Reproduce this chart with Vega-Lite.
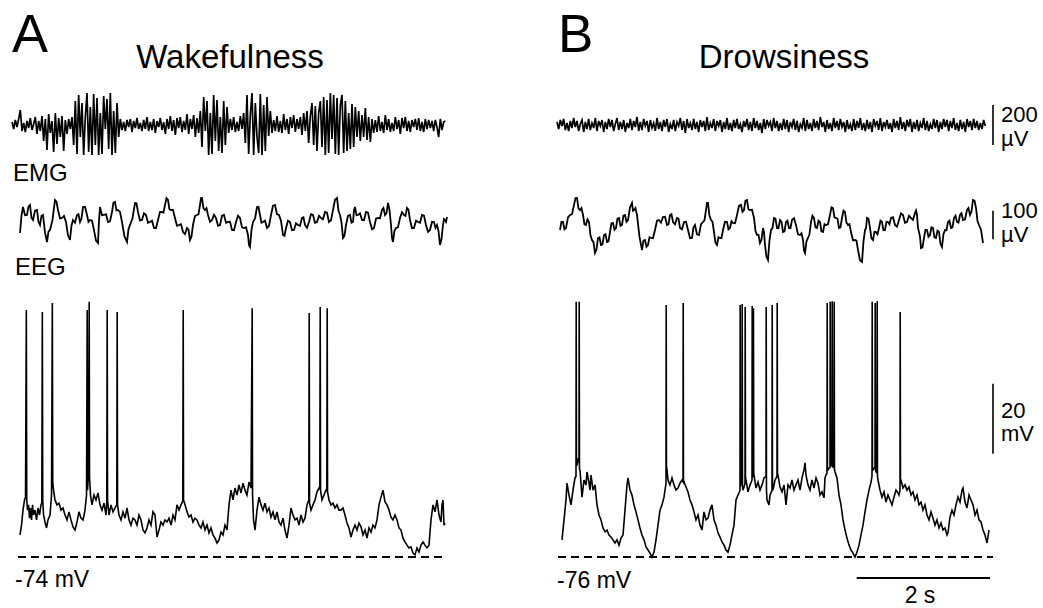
{
"$schema": "https://vega.github.io/schema/vega-lite/v6.json",
"padding": 0,
"background": "white",
"config": {"view": {"stroke": null}, "text": {"font": "Liberation Sans", "color": "black"}},
"datasets": {
"emgA": [{"t":0,"v":15},{"t":25,"v":-20},{"t":50,"v":25},{"t":75,"v":-10},{"t":100,"v":30},{"t":125,"v":75},{"t":150,"v":-30},{"t":175,"v":10},{"t":200,"v":-35},{"t":225,"v":20},{"t":250,"v":-15},{"t":275,"v":35},{"t":300,"v":-25},{"t":325,"v":5},{"t":350,"v":40},{"t":375,"v":-45},{"t":400,"v":20},{"t":425,"v":-30},{"t":450,"v":45},{"t":475,"v":-80},{"t":500,"v":30},{"t":525,"v":-125},{"t":550,"v":55},{"t":575,"v":-40},{"t":600,"v":20},{"t":625,"v":-135},{"t":650,"v":60},{"t":675,"v":-95},{"t":700,"v":35},{"t":725,"v":-60},{"t":750,"v":45},{"t":775,"v":-130},{"t":800,"v":25},{"t":825,"v":-45},{"t":850,"v":30},{"t":875,"v":-20},{"t":900,"v":40},{"t":925,"v":-100},{"t":950,"v":120},{"t":975,"v":-145},{"t":1000,"v":150},{"t":1025,"v":-60},{"t":1050,"v":110},{"t":1075,"v":-150},{"t":1100,"v":40},{"t":1125,"v":160},{"t":1150,"v":-135},{"t":1175,"v":90},{"t":1200,"v":-150},{"t":1225,"v":155},{"t":1250,"v":-100},{"t":1275,"v":135},{"t":1300,"v":-150},{"t":1325,"v":60},{"t":1350,"v":-145},{"t":1375,"v":145},{"t":1400,"v":-20},{"t":1425,"v":130},{"t":1450,"v":-120},{"t":1475,"v":160},{"t":1500,"v":-150},{"t":1525,"v":70},{"t":1550,"v":-140},{"t":1575,"v":110},{"t":1600,"v":-60},{"t":1625,"v":30},{"t":1650,"v":-25},{"t":1675,"v":15},{"t":1700,"v":-30},{"t":1725,"v":25},{"t":1750,"v":-10},{"t":1775,"v":30},{"t":1800,"v":-35},{"t":1825,"v":20},{"t":1850,"v":-15},{"t":1875,"v":35},{"t":1900,"v":-20},{"t":1925,"v":10},{"t":1950,"v":-30},{"t":1975,"v":25},{"t":2000,"v":-20},{"t":2025,"v":40},{"t":2050,"v":-30},{"t":2075,"v":15},{"t":2100,"v":-25},{"t":2125,"v":30},{"t":2150,"v":-40},{"t":2175,"v":20},{"t":2200,"v":-10},{"t":2225,"v":35},{"t":2250,"v":-25},{"t":2275,"v":15},{"t":2300,"v":-45},{"t":2325,"v":30},{"t":2350,"v":-20},{"t":2375,"v":45},{"t":2400,"v":-30},{"t":2425,"v":25},{"t":2450,"v":-50},{"t":2475,"v":35},{"t":2500,"v":-15},{"t":2525,"v":40},{"t":2550,"v":-35},{"t":2575,"v":20},{"t":2600,"v":-25},{"t":2625,"v":55},{"t":2650,"v":-45},{"t":2675,"v":30},{"t":2700,"v":-20},{"t":2725,"v":50},{"t":2750,"v":-60},{"t":2775,"v":35},{"t":2800,"v":-40},{"t":2825,"v":70},{"t":2850,"v":-110},{"t":2875,"v":140},{"t":2900,"v":-30},{"t":2925,"v":120},{"t":2950,"v":-150},{"t":2975,"v":60},{"t":3000,"v":-145},{"t":3025,"v":150},{"t":3050,"v":-80},{"t":3075,"v":125},{"t":3100,"v":-130},{"t":3125,"v":40},{"t":3150,"v":-140},{"t":3175,"v":120},{"t":3200,"v":-100},{"t":3225,"v":90},{"t":3250,"v":-40},{"t":3275,"v":30},{"t":3300,"v":-25},{"t":3325,"v":40},{"t":3350,"v":-35},{"t":3375,"v":15},{"t":3400,"v":-30},{"t":3425,"v":45},{"t":3450,"v":-20},{"t":3475,"v":60},{"t":3500,"v":-90},{"t":3525,"v":150},{"t":3550,"v":-145},{"t":3575,"v":50},{"t":3600,"v":160},{"t":3625,"v":-150},{"t":3650,"v":110},{"t":3675,"v":-60},{"t":3700,"v":-140},{"t":3725,"v":155},{"t":3750,"v":-150},{"t":3775,"v":100},{"t":3800,"v":-130},{"t":3825,"v":140},{"t":3850,"v":-55},{"t":3875,"v":70},{"t":3900,"v":-40},{"t":3925,"v":25},{"t":3950,"v":-30},{"t":3975,"v":45},{"t":4000,"v":-35},{"t":4025,"v":20},{"t":4050,"v":-40},{"t":4075,"v":55},{"t":4100,"v":-25},{"t":4125,"v":30},{"t":4150,"v":-45},{"t":4175,"v":40},{"t":4200,"v":-15},{"t":4225,"v":50},{"t":4250,"v":-35},{"t":4275,"v":30},{"t":4300,"v":-20},{"t":4325,"v":40},{"t":4350,"v":-50},{"t":4375,"v":60},{"t":4400,"v":-30},{"t":4425,"v":70},{"t":4450,"v":-90},{"t":4475,"v":45},{"t":4500,"v":110},{"t":4525,"v":-100},{"t":4550,"v":95},{"t":4575,"v":-130},{"t":4600,"v":60},{"t":4625,"v":120},{"t":4650,"v":-110},{"t":4675,"v":140},{"t":4700,"v":-150},{"t":4725,"v":125},{"t":4750,"v":-140},{"t":4775,"v":160},{"t":4800,"v":-70},{"t":4825,"v":150},{"t":4850,"v":-145},{"t":4875,"v":135},{"t":4900,"v":-150},{"t":4925,"v":100},{"t":4950,"v":150},{"t":4975,"v":-140},{"t":5000,"v":120},{"t":5025,"v":-130},{"t":5050,"v":60},{"t":5075,"v":-120},{"t":5100,"v":105},{"t":5125,"v":-110},{"t":5150,"v":90},{"t":5175,"v":-60},{"t":5200,"v":70},{"t":5225,"v":-80},{"t":5250,"v":50},{"t":5275,"v":-60},{"t":5300,"v":85},{"t":5325,"v":-75},{"t":5350,"v":40},{"t":5375,"v":-85},{"t":5400,"v":30},{"t":5425,"v":-40},{"t":5450,"v":25},{"t":5475,"v":-35},{"t":5500,"v":45},{"t":5525,"v":-30},{"t":5550,"v":15},{"t":5575,"v":-40},{"t":5600,"v":50},{"t":5625,"v":-25},{"t":5650,"v":30},{"t":5675,"v":-35},{"t":5700,"v":10},{"t":5725,"v":-30},{"t":5750,"v":40},{"t":5775,"v":-20},{"t":5800,"v":25},{"t":5825,"v":-45},{"t":5850,"v":35},{"t":5875,"v":-15},{"t":5900,"v":40},{"t":5925,"v":-30},{"t":5950,"v":20},{"t":5975,"v":-35},{"t":6000,"v":25},{"t":6025,"v":-10},{"t":6050,"v":30},{"t":6075,"v":-25},{"t":6100,"v":35},{"t":6125,"v":-30},{"t":6150,"v":15},{"t":6175,"v":-35},{"t":6200,"v":30},{"t":6225,"v":-20},{"t":6250,"v":25},{"t":6275,"v":-15},{"t":6300,"v":20},{"t":6325,"v":-30},{"t":6350,"v":25},{"t":6375,"v":-10},{"t":6400,"v":-60},{"t":6425,"v":30},{"t":6450,"v":-25},{"t":6475,"v":15},{"t":6500,"v":20}],
"emgB": [{"t":0,"v":15},{"t":25,"v":-20},{"t":50,"v":25},{"t":75,"v":-5},{"t":100,"v":30},{"t":125,"v":-25},{"t":150,"v":10},{"t":175,"v":-30},{"t":200,"v":20},{"t":225,"v":-15},{"t":250,"v":35},{"t":275,"v":-10},{"t":300,"v":20},{"t":325,"v":-30},{"t":350,"v":5},{"t":375,"v":25},{"t":400,"v":-35},{"t":425,"v":15},{"t":450,"v":-20},{"t":475,"v":30},{"t":500,"v":-25},{"t":525,"v":10},{"t":550,"v":-15},{"t":575,"v":35},{"t":600,"v":-30},{"t":625,"v":20},{"t":650,"v":-5},{"t":675,"v":25},{"t":700,"v":-35},{"t":725,"v":15},{"t":750,"v":-20},{"t":775,"v":30},{"t":800,"v":-10},{"t":825,"v":25},{"t":850,"v":-30},{"t":875,"v":5},{"t":900,"v":35},{"t":925,"v":-25},{"t":950,"v":15},{"t":975,"v":-20},{"t":1000,"v":25},{"t":1025,"v":-35},{"t":1050,"v":10},{"t":1075,"v":-15},{"t":1100,"v":30},{"t":1125,"v":-25},{"t":1150,"v":20},{"t":1175,"v":-10},{"t":1200,"v":40},{"t":1225,"v":-30},{"t":1250,"v":15},{"t":1275,"v":-25},{"t":1300,"v":30},{"t":1325,"v":-5},{"t":1350,"v":20},{"t":1375,"v":-35},{"t":1400,"v":25},{"t":1425,"v":-15},{"t":1450,"v":10},{"t":1475,"v":-30},{"t":1500,"v":35},{"t":1525,"v":-20},{"t":1550,"v":15},{"t":1575,"v":-30},{"t":1600,"v":25},{"t":1625,"v":-10},{"t":1650,"v":30},{"t":1675,"v":-35},{"t":1700,"v":5},{"t":1725,"v":-20},{"t":1750,"v":25},{"t":1775,"v":-30},{"t":1800,"v":15},{"t":1825,"v":-5},{"t":1850,"v":35},{"t":1875,"v":-25},{"t":1900,"v":20},{"t":1925,"v":-40},{"t":1950,"v":30},{"t":1975,"v":-15},{"t":2000,"v":10},{"t":2025,"v":-25},{"t":2050,"v":30},{"t":2075,"v":-20},{"t":2100,"v":15},{"t":2125,"v":-35},{"t":2150,"v":25},{"t":2175,"v":-10},{"t":2200,"v":20},{"t":2225,"v":-30},{"t":2250,"v":40},{"t":2275,"v":-25},{"t":2300,"v":10},{"t":2325,"v":-15},{"t":2350,"v":30},{"t":2375,"v":-30},{"t":2400,"v":20},{"t":2425,"v":-5},{"t":2450,"v":25},{"t":2475,"v":-35},{"t":2500,"v":15},{"t":2525,"v":-20},{"t":2550,"v":35},{"t":2575,"v":-25},{"t":2600,"v":10},{"t":2625,"v":-30},{"t":2650,"v":25},{"t":2675,"v":-15},{"t":2700,"v":30},{"t":2725,"v":-20},{"t":2750,"v":5},{"t":2775,"v":-35},{"t":2800,"v":20},{"t":2825,"v":-10},{"t":2850,"v":30},{"t":2875,"v":-25},{"t":2900,"v":15},{"t":2925,"v":-30},{"t":2950,"v":35},{"t":2975,"v":-15},{"t":3000,"v":20},{"t":3025,"v":-25},{"t":3050,"v":10},{"t":3075,"v":-40},{"t":3100,"v":30},{"t":3125,"v":-20},{"t":3150,"v":25},{"t":3175,"v":-5},{"t":3200,"v":15},{"t":3225,"v":-30},{"t":3250,"v":35},{"t":3275,"v":-15},{"t":3300,"v":20},{"t":3325,"v":-30},{"t":3350,"v":10},{"t":3375,"v":-25},{"t":3400,"v":30},{"t":3425,"v":-20},{"t":3450,"v":25},{"t":3475,"v":-35},{"t":3500,"v":15},{"t":3525,"v":-10},{"t":3550,"v":30},{"t":3575,"v":-25},{"t":3600,"v":20},{"t":3625,"v":-35},{"t":3650,"v":5},{"t":3675,"v":-15},{"t":3700,"v":35},{"t":3725,"v":-30},{"t":3750,"v":25},{"t":3775,"v":-20},{"t":3800,"v":10},{"t":3825,"v":-30},{"t":3850,"v":30},{"t":3875,"v":-15},{"t":3900,"v":20},{"t":3925,"v":-25},{"t":3950,"v":40},{"t":3975,"v":-10},{"t":4000,"v":15},{"t":4025,"v":-35},{"t":4050,"v":25},{"t":4075,"v":-20},{"t":4100,"v":10},{"t":4125,"v":-30},{"t":4150,"v":35},{"t":4175,"v":-15},{"t":4200,"v":20},{"t":4225,"v":-25},{"t":4250,"v":30},{"t":4275,"v":-10},{"t":4300,"v":15},{"t":4325,"v":-35},{"t":4350,"v":25},{"t":4375,"v":-20},{"t":4400,"v":5},{"t":4425,"v":-30},{"t":4450,"v":30},{"t":4475,"v":-25},{"t":4500,"v":20},{"t":4525,"v":-15},{"t":4550,"v":35},{"t":4575,"v":-25},{"t":4600,"v":10},{"t":4625,"v":-30},{"t":4650,"v":25},{"t":4675,"v":-20},{"t":4700,"v":15},{"t":4725,"v":-35},{"t":4750,"v":30},{"t":4775,"v":-5},{"t":4800,"v":20},{"t":4825,"v":-25},{"t":4850,"v":35},{"t":4875,"v":-30},{"t":4900,"v":15},{"t":4925,"v":-10},{"t":4950,"v":25},{"t":4975,"v":-20},{"t":5000,"v":10},{"t":5025,"v":-35},{"t":5050,"v":30},{"t":5075,"v":-15},{"t":5100,"v":20},{"t":5125,"v":-25},{"t":5150,"v":40},{"t":5175,"v":-20},{"t":5200,"v":15},{"t":5225,"v":-30},{"t":5250,"v":25},{"t":5275,"v":-10},{"t":5300,"v":30},{"t":5325,"v":-35},{"t":5350,"v":15},{"t":5375,"v":-20},{"t":5400,"v":25},{"t":5425,"v":-30},{"t":5450,"v":10},{"t":5475,"v":-15},{"t":5500,"v":35},{"t":5525,"v":-25},{"t":5550,"v":20},{"t":5575,"v":-30},{"t":5600,"v":5},{"t":5625,"v":-20},{"t":5650,"v":30},{"t":5675,"v":-15},{"t":5700,"v":25},{"t":5725,"v":-35},{"t":5750,"v":15},{"t":5775,"v":-20},{"t":5800,"v":30},{"t":5825,"v":-10},{"t":5850,"v":25},{"t":5875,"v":-30},{"t":5900,"v":20},{"t":5925,"v":-15},{"t":5950,"v":35},{"t":5975,"v":-25},{"t":6000,"v":10},{"t":6025,"v":-30},{"t":6050,"v":25},{"t":6075,"v":-20},{"t":6100,"v":15},{"t":6125,"v":-35},{"t":6150,"v":30},{"t":6175,"v":-10},{"t":6200,"v":20},{"t":6225,"v":-25},{"t":6250,"v":30},{"t":6275,"v":-15},{"t":6300,"v":20},{"t":6325,"v":-25},{"t":6350,"v":10},{"t":6375,"v":-20},{"t":6400,"v":25},{"t":6425,"v":-5}],
"eegA": [{"t":120,"v":-28},{"t":142,"v":32},{"t":165,"v":63},{"t":195,"v":34},{"t":225,"v":35},{"t":247,"v":64},{"t":270,"v":70},{"t":292,"v":26},{"t":315,"v":17.5},{"t":345,"v":50},{"t":375,"v":52.5},{"t":397,"v":11},{"t":420,"v":0},{"t":442,"v":32},{"t":465,"v":35},{"t":495,"v":-27},{"t":525,"v":-59.5},{"t":547,"v":-23},{"t":570,"v":-17.5},{"t":607,"v":17},{"t":645,"v":87.5},{"t":667,"v":82},{"t":690,"v":52.5},{"t":720,"v":23},{"t":750,"v":24.5},{"t":780,"v":32},{"t":810,"v":10.5},{"t":840,"v":-36},{"t":870,"v":-52.5},{"t":892,"v":-2.5},{"t":915,"v":17.5},{"t":945,"v":8},{"t":975,"v":35},{"t":997,"v":38},{"t":1020,"v":10.5},{"t":1042,"v":22},{"t":1065,"v":63},{"t":1095,"v":64},{"t":1125,"v":35},{"t":1147,"v":11},{"t":1170,"v":17.5},{"t":1200,"v":15},{"t":1230,"v":-17.5},{"t":1260,"v":-55},{"t":1290,"v":-63},{"t":1305,"v":15},{"t":1320,"v":63},{"t":1350,"v":34},{"t":1380,"v":35},{"t":1410,"v":38},{"t":1440,"v":10.5},{"t":1470,"v":13},{"t":1500,"v":45.5},{"t":1522,"v":78},{"t":1545,"v":80.5},{"t":1567,"v":51},{"t":1590,"v":52.5},{"t":1620,"v":46},{"t":1650,"v":10.5},{"t":1687,"v":-40},{"t":1725,"v":-59.5},{"t":1747,"v":-15},{"t":1770,"v":0},{"t":1807,"v":23},{"t":1845,"v":77},{"t":1867,"v":76},{"t":1890,"v":45.5},{"t":1920,"v":16},{"t":1950,"v":17.5},{"t":1980,"v":41},{"t":2010,"v":35},{"t":2040,"v":8},{"t":2070,"v":10.5},{"t":2100,"v":15},{"t":2130,"v":-10.5},{"t":2160,"v":-11.5},{"t":2190,"v":17.5},{"t":2220,"v":46},{"t":2250,"v":45.5},{"t":2272,"v":43},{"t":2295,"v":70},{"t":2317,"v":94},{"t":2340,"v":87.5},{"t":2362,"v":55},{"t":2385,"v":52.5},{"t":2415,"v":53},{"t":2445,"v":24.5},{"t":2475,"v":-3},{"t":2505,"v":0},{"t":2535,"v":3},{"t":2565,"v":-24.5},{"t":2595,"v":-32},{"t":2625,"v":-10.5},{"t":2647,"v":-16.5},{"t":2670,"v":-52.5},{"t":2692,"v":-41},{"t":2715,"v":0},{"t":2745,"v":32},{"t":2775,"v":35},{"t":2797,"v":37.5},{"t":2820,"v":70},{"t":2835,"v":94},{"t":2850,"v":94.5},{"t":2872,"v":58.5},{"t":2895,"v":52.5},{"t":2917,"v":59},{"t":2940,"v":35},{"t":2970,"v":11},{"t":3000,"v":17.5},{"t":3030,"v":36},{"t":3060,"v":24.5},{"t":3090,"v":-3},{"t":3120,"v":0},{"t":3150,"v":32.5},{"t":3180,"v":35},{"t":3210,"v":8},{"t":3240,"v":10.5},{"t":3270,"v":11.5},{"t":3300,"v":-17.5},{"t":3330,"v":-18.5},{"t":3360,"v":10.5},{"t":3390,"v":32.5},{"t":3420,"v":24.5},{"t":3450,"v":-8},{"t":3480,"v":-10.5},{"t":3510,"v":-8},{"t":3540,"v":-35},{"t":3555,"v":-71},{"t":3570,"v":-77},{"t":3592,"v":-18},{"t":3615,"v":10.5},{"t":3645,"v":22},{"t":3675,"v":63},{"t":3697,"v":64},{"t":3720,"v":35},{"t":3742,"v":8},{"t":3765,"v":10.5},{"t":3795,"v":15},{"t":3825,"v":-10.5},{"t":3855,"v":-3},{"t":3885,"v":35},{"t":3915,"v":67.5},{"t":3945,"v":70},{"t":3975,"v":37.5},{"t":4005,"v":35},{"t":4035,"v":15},{"t":4065,"v":-35},{"t":4087,"v":-38},{"t":4110,"v":-10.5},{"t":4140,"v":15},{"t":4170,"v":10.5},{"t":4200,"v":-18.5},{"t":4230,"v":-17.5},{"t":4260,"v":6},{"t":4290,"v":0},{"t":4320,"v":-3},{"t":4350,"v":24.5},{"t":4372,"v":27},{"t":4395,"v":0},{"t":4425,"v":-10},{"t":4455,"v":10.5},{"t":4485,"v":38},{"t":4515,"v":35},{"t":4545,"v":8},{"t":4575,"v":10.5},{"t":4605,"v":32.5},{"t":4635,"v":24.5},{"t":4665,"v":20},{"t":4695,"v":45.5},{"t":4725,"v":43},{"t":4755,"v":10.5},{"t":4785,"v":16.5},{"t":4815,"v":52.5},{"t":4845,"v":88.5},{"t":4875,"v":94.5},{"t":4897,"v":50},{"t":4920,"v":35},{"t":4942,"v":10},{"t":4965,"v":-45.5},{"t":4987,"v":-38},{"t":5010,"v":0},{"t":5040,"v":32.5},{"t":5070,"v":35},{"t":5092,"v":8},{"t":5115,"v":10.5},{"t":5130,"v":52},{"t":5145,"v":63},{"t":5167,"v":34},{"t":5190,"v":35},{"t":5220,"v":41},{"t":5250,"v":17.5},{"t":5280,"v":16.5},{"t":5310,"v":45.5},{"t":5340,"v":43},{"t":5370,"v":10.5},{"t":5400,"v":-15},{"t":5430,"v":-10.5},{"t":5460,"v":22},{"t":5490,"v":24.5},{"t":5520,"v":23.5},{"t":5550,"v":52.5},{"t":5572,"v":59},{"t":5595,"v":35},{"t":5617,"v":41},{"t":5640,"v":77},{"t":5662,"v":53.5},{"t":5685,"v":0},{"t":5700,"v":-45},{"t":5715,"v":-59.5},{"t":5737,"v":-20},{"t":5760,"v":-10.5},{"t":5790,"v":-8},{"t":5820,"v":24.5},{"t":5850,"v":45},{"t":5880,"v":35},{"t":5902,"v":32},{"t":5925,"v":59.5},{"t":5947,"v":53.5},{"t":5970,"v":17.5},{"t":6000,"v":-11.5},{"t":6030,"v":-10.5},{"t":6060,"v":15},{"t":6090,"v":10.5},{"t":6120,"v":8},{"t":6150,"v":35},{"t":6180,"v":32.5},{"t":6210,"v":0},{"t":6240,"v":-24},{"t":6270,"v":-17.5},{"t":6300,"v":11.5},{"t":6330,"v":10.5},{"t":6352,"v":-10},{"t":6375,"v":0},{"t":6397,"v":-20},{"t":6420,"v":-70},{"t":6442,"v":-50},{"t":6465,"v":0},{"t":6480,"v":21},{"t":6495,"v":17.5},{"t":6510,"v":11},{"t":6525,"v":28}],
"eegB": [{"t":45,"v":-17.5},{"t":67,"v":11.5},{"t":90,"v":10.5},{"t":112,"v":-15},{"t":135,"v":-10.5},{"t":165,"v":27},{"t":195,"v":35},{"t":225,"v":37.5},{"t":255,"v":70},{"t":277,"v":94},{"t":300,"v":94.5},{"t":322,"v":58.5},{"t":345,"v":52.5},{"t":367,"v":59},{"t":390,"v":35},{"t":412,"v":2.5},{"t":435,"v":0},{"t":457,"v":20},{"t":480,"v":10.5},{"t":502,"v":-36},{"t":525,"v":-52.5},{"t":547,"v":-60},{"t":570,"v":-98},{"t":592,"v":-87},{"t":615,"v":-45.5},{"t":637,"v":-43},{"t":660,"v":-70},{"t":682,"v":-67.5},{"t":705,"v":-35},{"t":727,"v":-32},{"t":750,"v":-59.5},{"t":772,"v":-57},{"t":795,"v":-24.5},{"t":817,"v":6},{"t":840,"v":7},{"t":862,"v":-17},{"t":885,"v":-10.5},{"t":907,"v":22},{"t":930,"v":24.5},{"t":952,"v":-3},{"t":975,"v":0},{"t":997,"v":32.5},{"t":1020,"v":35},{"t":1042,"v":11},{"t":1065,"v":17.5},{"t":1095,"v":62},{"t":1125,"v":77},{"t":1140,"v":50},{"t":1155,"v":52.5},{"t":1177,"v":59},{"t":1200,"v":35},{"t":1237,"v":-41},{"t":1275,"v":-87.5},{"t":1297,"v":-55},{"t":1320,"v":-52.5},{"t":1342,"v":-76},{"t":1365,"v":-70},{"t":1387,"v":-43},{"t":1410,"v":-45.5},{"t":1440,"v":-46.5},{"t":1470,"v":-17.5},{"t":1500,"v":15},{"t":1530,"v":17.5},{"t":1560,"v":8},{"t":1590,"v":28},{"t":1620,"v":29},{"t":1650,"v":0},{"t":1672,"v":2.5},{"t":1695,"v":35},{"t":1717,"v":38},{"t":1740,"v":10.5},{"t":1770,"v":2.5},{"t":1800,"v":24.5},{"t":1822,"v":22},{"t":1845,"v":-10.5},{"t":1875,"v":-15},{"t":1905,"v":10.5},{"t":1935,"v":11.5},{"t":1965,"v":-17.5},{"t":1995,"v":-46.5},{"t":2025,"v":-45.5},{"t":2047,"v":-8},{"t":2070,"v":0},{"t":2100,"v":-32.5},{"t":2130,"v":-35},{"t":2160,"v":3},{"t":2190,"v":10.5},{"t":2212,"v":16.5},{"t":2235,"v":52.5},{"t":2250,"v":77},{"t":2265,"v":77},{"t":2287,"v":32},{"t":2310,"v":17.5},{"t":2332,"v":11.5},{"t":2355,"v":-24.5},{"t":2377,"v":-62},{"t":2400,"v":-70},{"t":2422,"v":-43},{"t":2445,"v":-45.5},{"t":2467,"v":-46.5},{"t":2490,"v":-17.5},{"t":2520,"v":11.5},{"t":2550,"v":10.5},{"t":2572,"v":-15},{"t":2595,"v":-10.5},{"t":2617,"v":13},{"t":2640,"v":7},{"t":2670,"v":6},{"t":2700,"v":35},{"t":2730,"v":67.5},{"t":2760,"v":70},{"t":2782,"v":46},{"t":2805,"v":52.5},{"t":2827,"v":85},{"t":2850,"v":87.5},{"t":2872,"v":55},{"t":2895,"v":52.5},{"t":2925,"v":53.5},{"t":2955,"v":24.5},{"t":2977,"v":-20},{"t":3000,"v":-35},{"t":3022,"v":-34},{"t":3045,"v":-63},{"t":3067,"v":-52},{"t":3090,"v":-10.5},{"t":3105,"v":-25},{"t":3120,"v":-70},{"t":3142,"v":-111},{"t":3165,"v":-122.5},{"t":3187,"v":-55},{"t":3210,"v":-17.5},{"t":3232,"v":-11.5},{"t":3255,"v":24.5},{"t":3277,"v":22},{"t":3300,"v":-10.5},{"t":3322,"v":-11.5},{"t":3345,"v":17.5},{"t":3367,"v":11.5},{"t":3390,"v":-24.5},{"t":3412,"v":-22},{"t":3435,"v":10.5},{"t":3457,"v":15},{"t":3480,"v":-10.5},{"t":3502,"v":-11.5},{"t":3525,"v":17.5},{"t":3555,"v":24},{"t":3585,"v":0},{"t":3615,"v":-32.5},{"t":3645,"v":-35},{"t":3667,"v":-29},{"t":3690,"v":-52.5},{"t":3705,"v":-90},{"t":3720,"v":-98},{"t":3742,"v":-57},{"t":3765,"v":-45.5},{"t":3787,"v":-32.5},{"t":3810,"v":10.5},{"t":3832,"v":32.5},{"t":3855,"v":24.5},{"t":3877,"v":-8},{"t":3900,"v":-10.5},{"t":3922,"v":15},{"t":3945,"v":10.5},{"t":3967,"v":-22},{"t":3990,"v":-24.5},{"t":4012,"v":3},{"t":4035,"v":0},{"t":4065,"v":2.5},{"t":4095,"v":35},{"t":4117,"v":62},{"t":4140,"v":59.5},{"t":4162,"v":27},{"t":4185,"v":24.5},{"t":4207,"v":22},{"t":4230,"v":-10.5},{"t":4252,"v":-8},{"t":4275,"v":24.5},{"t":4297,"v":50},{"t":4320,"v":45.5},{"t":4342,"v":8},{"t":4365,"v":0},{"t":4387,"v":3},{"t":4410,"v":-24.5},{"t":4440,"v":-53.5},{"t":4470,"v":-52.5},{"t":4492,"v":-55},{"t":4515,"v":-87.5},{"t":4545,"v":-123.5},{"t":4575,"v":-129.5},{"t":4597,"v":-58.5},{"t":4620,"v":-17.5},{"t":4635,"v":-11.5},{"t":4650,"v":24.5},{"t":4672,"v":22},{"t":4695,"v":-10.5},{"t":4717,"v":-46.5},{"t":4740,"v":-52.5},{"t":4762,"v":-23.5},{"t":4785,"v":-24.5},{"t":4807,"v":-32.5},{"t":4830,"v":-10.5},{"t":4852,"v":15},{"t":4875,"v":10.5},{"t":4897,"v":-18.5},{"t":4920,"v":-17.5},{"t":4942,"v":11.5},{"t":4965,"v":10.5},{"t":4987,"v":2.5},{"t":5010,"v":24.5},{"t":5040,"v":27},{"t":5070,"v":0},{"t":5100,"v":-6},{"t":5130,"v":17.5},{"t":5160,"v":41},{"t":5190,"v":35},{"t":5220,"v":8},{"t":5250,"v":10.5},{"t":5280,"v":32.5},{"t":5310,"v":24.5},{"t":5340,"v":18},{"t":5370,"v":42},{"t":5385,"v":50.5},{"t":5400,"v":35},{"t":5415,"v":-10},{"t":5430,"v":-24.5},{"t":5445,"v":-40.5},{"t":5460,"v":-80.5},{"t":5482,"v":-78},{"t":5505,"v":-45.5},{"t":5527,"v":-16.5},{"t":5550,"v":-17.5},{"t":5572,"v":-41},{"t":5595,"v":-35},{"t":5617,"v":-8},{"t":5640,"v":-10.5},{"t":5662,"v":-43},{"t":5685,"v":-45.5},{"t":5707,"v":-20},{"t":5730,"v":-24.5},{"t":5752,"v":-66},{"t":5775,"v":-77},{"t":5797,"v":-32},{"t":5820,"v":-17.5},{"t":5842,"v":-18.5},{"t":5865,"v":10.5},{"t":5887,"v":15},{"t":5910,"v":-10.5},{"t":5932,"v":-8},{"t":5955,"v":24.5},{"t":5977,"v":32.5},{"t":6000,"v":10.5},{"t":6022,"v":8},{"t":6045,"v":35},{"t":6067,"v":41},{"t":6090,"v":17.5},{"t":6120,"v":20},{"t":6150,"v":52.5},{"t":6172,"v":59},{"t":6195,"v":35},{"t":6217,"v":46},{"t":6240,"v":87.5},{"t":6262,"v":85.5},{"t":6285,"v":59.5},{"t":6307,"v":15},{"t":6330,"v":0},{"t":6360,"v":-16.5},{"t":6390,"v":-63}],
"vmA": [{"t":120,"v":-67.7},{"t":143,"v":-64.9},{"t":165,"v":-60.6},{"t":188,"v":-57.7},{"t":203,"v":-56.9},{"t":215,"v":-3.4},{"t":221,"v":-57.7},{"t":233,"v":-60.6},{"t":248,"v":-59.1},{"t":263,"v":-62.9},{"t":278,"v":-60},{"t":293,"v":-63.4},{"t":308,"v":-59.1},{"t":323,"v":-62},{"t":345,"v":-60.6},{"t":368,"v":-63.4},{"t":390,"v":-60},{"t":413,"v":-62},{"t":435,"v":-59.1},{"t":447,"v":-58.5},{"t":455,"v":-4},{"t":461,"v":-57.7},{"t":473,"v":-62},{"t":495,"v":-64},{"t":518,"v":-65.7},{"t":540,"v":-63.4},{"t":570,"v":-62},{"t":593,"v":-56.3},{"t":605,"v":-1.4},{"t":611,"v":-52.6},{"t":623,"v":-54.9},{"t":645,"v":-57.7},{"t":675,"v":-59.1},{"t":705,"v":-58.6},{"t":735,"v":-60.6},{"t":765,"v":-60},{"t":795,"v":-62},{"t":825,"v":-63.4},{"t":855,"v":-61.1},{"t":885,"v":-63.4},{"t":915,"v":-65.4},{"t":945,"v":-66.3},{"t":975,"v":-64},{"t":1005,"v":-61.1},{"t":1035,"v":-62.9},{"t":1065,"v":-63.4},{"t":1095,"v":-60.6},{"t":1118,"v":-56.3},{"t":1128,"v":-3.4},{"t":1133,"v":-54.9},{"t":1148,"v":-49.7},{"t":1158,"v":-1.1},{"t":1163,"v":-51.4},{"t":1178,"v":-56.3},{"t":1200,"v":-59.1},{"t":1230,"v":-56.3},{"t":1260,"v":-57.7},{"t":1290,"v":-55.7},{"t":1320,"v":-59.1},{"t":1350,"v":-60.6},{"t":1380,"v":-58.6},{"t":1410,"v":-62},{"t":1422,"v":-58},{"t":1428,"v":-3.4},{"t":1433,"v":-57.7},{"t":1455,"v":-62},{"t":1485,"v":-59.1},{"t":1515,"v":-61.1},{"t":1545,"v":-60},{"t":1572,"v":-59},{"t":1578,"v":-4},{"t":1583,"v":-59.1},{"t":1605,"v":-62},{"t":1635,"v":-63.4},{"t":1665,"v":-61.1},{"t":1695,"v":-62.9},{"t":1725,"v":-60},{"t":1755,"v":-63.4},{"t":1785,"v":-64.9},{"t":1815,"v":-62.9},{"t":1845,"v":-63.4},{"t":1875,"v":-64.9},{"t":1905,"v":-62},{"t":1935,"v":-63.4},{"t":1965,"v":-66.3},{"t":1995,"v":-67.1},{"t":2025,"v":-65.7},{"t":2055,"v":-63.4},{"t":2085,"v":-64.9},{"t":2115,"v":-61.1},{"t":2145,"v":-62},{"t":2175,"v":-68.3},{"t":2205,"v":-66.3},{"t":2235,"v":-64},{"t":2265,"v":-64.9},{"t":2295,"v":-63.4},{"t":2325,"v":-64},{"t":2355,"v":-62.9},{"t":2385,"v":-64.9},{"t":2415,"v":-62},{"t":2445,"v":-63.4},{"t":2475,"v":-59.1},{"t":2505,"v":-60.6},{"t":2535,"v":-59.1},{"t":2562,"v":-58},{"t":2568,"v":-3.4},{"t":2573,"v":-57.7},{"t":2595,"v":-59.1},{"t":2625,"v":-61.1},{"t":2655,"v":-62.6},{"t":2685,"v":-62},{"t":2715,"v":-64},{"t":2745,"v":-62.9},{"t":2775,"v":-63.4},{"t":2805,"v":-64.9},{"t":2835,"v":-65.7},{"t":2865,"v":-64},{"t":2895,"v":-66.3},{"t":2925,"v":-64.9},{"t":2955,"v":-67.1},{"t":2985,"v":-65.7},{"t":3015,"v":-67.7},{"t":3045,"v":-68.6},{"t":3075,"v":-70},{"t":3105,"v":-69.1},{"t":3135,"v":-66.9},{"t":3165,"v":-67.7},{"t":3195,"v":-64.9},{"t":3225,"v":-66.3},{"t":3255,"v":-59.1},{"t":3285,"v":-54.9},{"t":3315,"v":-57.7},{"t":3345,"v":-54.3},{"t":3375,"v":-56.3},{"t":3405,"v":-53.4},{"t":3435,"v":-55.7},{"t":3465,"v":-52.9},{"t":3495,"v":-54.9},{"t":3525,"v":-56.3},{"t":3555,"v":-52.6},{"t":3585,"v":-54.3},{"t":3603,"v":-2.9},{"t":3608,"v":-56.3},{"t":3623,"v":-63.4},{"t":3645,"v":-66.3},{"t":3675,"v":-60.6},{"t":3705,"v":-56.9},{"t":3735,"v":-59.1},{"t":3765,"v":-60.6},{"t":3795,"v":-58.6},{"t":3825,"v":-61.1},{"t":3855,"v":-60},{"t":3885,"v":-62.6},{"t":3915,"v":-61.1},{"t":3945,"v":-63.4},{"t":3975,"v":-61.1},{"t":4005,"v":-64},{"t":4035,"v":-64.9},{"t":4065,"v":-62.9},{"t":4095,"v":-66.3},{"t":4125,"v":-68.6},{"t":4155,"v":-64.9},{"t":4185,"v":-60},{"t":4215,"v":-62},{"t":4245,"v":-63.4},{"t":4275,"v":-62.9},{"t":4305,"v":-64.9},{"t":4335,"v":-62},{"t":4365,"v":-64},{"t":4395,"v":-62.9},{"t":4425,"v":-59.1},{"t":4452,"v":-57.7},{"t":4458,"v":-4.3},{"t":4463,"v":-58.6},{"t":4485,"v":-60.6},{"t":4515,"v":-59.1},{"t":4545,"v":-57.7},{"t":4575,"v":-55.4},{"t":4605,"v":-54.3},{"t":4617,"v":-54.5},{"t":4623,"v":-2.6},{"t":4628,"v":-54.9},{"t":4650,"v":-57.7},{"t":4680,"v":-56.3},{"t":4710,"v":-54.9},{"t":4722,"v":-55},{"t":4728,"v":-2.9},{"t":4733,"v":-55.4},{"t":4755,"v":-57.7},{"t":4785,"v":-59.1},{"t":4815,"v":-58.6},{"t":4845,"v":-60},{"t":4875,"v":-59.1},{"t":4905,"v":-60.6},{"t":4935,"v":-60.6},{"t":4965,"v":-60},{"t":4995,"v":-62},{"t":5025,"v":-64.3},{"t":5055,"v":-65.7},{"t":5085,"v":-68.3},{"t":5115,"v":-66.3},{"t":5145,"v":-64.9},{"t":5175,"v":-66.3},{"t":5205,"v":-64.3},{"t":5235,"v":-65.4},{"t":5265,"v":-67.7},{"t":5295,"v":-66.3},{"t":5325,"v":-68.6},{"t":5355,"v":-65.7},{"t":5385,"v":-66.9},{"t":5415,"v":-64.9},{"t":5445,"v":-65.7},{"t":5475,"v":-63.4},{"t":5505,"v":-59.1},{"t":5535,"v":-56.9},{"t":5565,"v":-54.9},{"t":5595,"v":-58.3},{"t":5625,"v":-59.1},{"t":5655,"v":-60.6},{"t":5685,"v":-62.6},{"t":5715,"v":-63.4},{"t":5745,"v":-62},{"t":5775,"v":-63.4},{"t":5805,"v":-65.7},{"t":5835,"v":-66.3},{"t":5865,"v":-68.6},{"t":5895,"v":-69.7},{"t":5925,"v":-70.6},{"t":5955,"v":-71.4},{"t":5985,"v":-71.1},{"t":6015,"v":-72.9},{"t":6045,"v":-73.4},{"t":6075,"v":-71.4},{"t":6105,"v":-72.6},{"t":6135,"v":-70.6},{"t":6165,"v":-69.7},{"t":6195,"v":-70.6},{"t":6225,"v":-71.4},{"t":6255,"v":-70.6},{"t":6285,"v":-63.4},{"t":6315,"v":-59.1},{"t":6345,"v":-61.1},{"t":6375,"v":-57.7},{"t":6405,"v":-62},{"t":6435,"v":-64},{"t":6450,"v":-59.1},{"t":6465,"v":-57.7},{"t":6480,"v":-64.9},{"t":6495,"v":-64.3}],
"vmB": [{"t":75,"v":-71.1},{"t":105,"v":-65.4},{"t":135,"v":-59.7},{"t":150,"v":-54.9},{"t":180,"v":-58.3},{"t":210,"v":-61.1},{"t":240,"v":-56.9},{"t":270,"v":-53.4},{"t":285,"v":-53},{"t":288,"v":-3.1},{"t":292,"v":-50},{"t":300,"v":-49.7},{"t":315,"v":-48.3},{"t":330,"v":-49},{"t":333,"v":-3.1},{"t":337,"v":-51},{"t":345,"v":-51.1},{"t":375,"v":-58.9},{"t":405,"v":-54},{"t":435,"v":-55.4},{"t":450,"v":-51.7},{"t":480,"v":-54.9},{"t":495,"v":-56.9},{"t":510,"v":-52.6},{"t":540,"v":-56.9},{"t":570,"v":-55.4},{"t":600,"v":-61.1},{"t":630,"v":-64},{"t":660,"v":-65.4},{"t":690,"v":-67.7},{"t":720,"v":-68.8},{"t":750,"v":-68.3},{"t":780,"v":-69.7},{"t":810,"v":-70.3},{"t":840,"v":-71.1},{"t":870,"v":-72},{"t":900,"v":-71.1},{"t":930,"v":-72.6},{"t":960,"v":-70.6},{"t":990,"v":-69.7},{"t":1020,"v":-62.6},{"t":1050,"v":-55.4},{"t":1065,"v":-53.4},{"t":1095,"v":-56.9},{"t":1125,"v":-58.3},{"t":1155,"v":-61.1},{"t":1185,"v":-63.1},{"t":1215,"v":-65.4},{"t":1245,"v":-67.7},{"t":1275,"v":-69.7},{"t":1305,"v":-71.1},{"t":1335,"v":-73.1},{"t":1365,"v":-74},{"t":1395,"v":-74.9},{"t":1425,"v":-76},{"t":1455,"v":-74.6},{"t":1485,"v":-71.1},{"t":1515,"v":-66.9},{"t":1545,"v":-62.6},{"t":1575,"v":-61.1},{"t":1605,"v":-58.9},{"t":1620,"v":-56.9},{"t":1635,"v":-55},{"t":1638,"v":-4},{"t":1642,"v":-50},{"t":1650,"v":-51.1},{"t":1665,"v":-54},{"t":1695,"v":-55.4},{"t":1725,"v":-53.4},{"t":1755,"v":-55.4},{"t":1785,"v":-56.9},{"t":1815,"v":-56.3},{"t":1845,"v":-54.9},{"t":1875,"v":-54},{"t":1890,"v":-54.5},{"t":1893,"v":-3.4},{"t":1897,"v":-54},{"t":1905,"v":-54.6},{"t":1935,"v":-56},{"t":1965,"v":-57.4},{"t":1995,"v":-59.7},{"t":2025,"v":-61.1},{"t":2055,"v":-63.1},{"t":2085,"v":-65.4},{"t":2115,"v":-64},{"t":2145,"v":-66.9},{"t":2175,"v":-68.3},{"t":2205,"v":-63.1},{"t":2235,"v":-65.4},{"t":2265,"v":-64.9},{"t":2295,"v":-62.6},{"t":2325,"v":-61.1},{"t":2355,"v":-65.4},{"t":2385,"v":-66.9},{"t":2415,"v":-69.1},{"t":2445,"v":-70.3},{"t":2475,"v":-71.7},{"t":2505,"v":-72.6},{"t":2535,"v":-74},{"t":2565,"v":-74.6},{"t":2595,"v":-72.6},{"t":2625,"v":-69.7},{"t":2655,"v":-66.9},{"t":2685,"v":-59.7},{"t":2715,"v":-58.3},{"t":2745,"v":-57},{"t":2748,"v":-4},{"t":2752,"v":-55},{"t":2760,"v":-55.4},{"t":2775,"v":-55},{"t":2778,"v":-3.7},{"t":2782,"v":-56},{"t":2790,"v":-56.9},{"t":2820,"v":-55},{"t":2823,"v":-4.6},{"t":2827,"v":-53},{"t":2835,"v":-54},{"t":2865,"v":-57.4},{"t":2895,"v":-55.4},{"t":2925,"v":-54},{"t":2928,"v":-4.3},{"t":2932,"v":-53},{"t":2943,"v":-53},{"t":2947,"v":-4.9},{"t":2951,"v":-52},{"t":2955,"v":-52.6},{"t":2985,"v":-56.3},{"t":3015,"v":-54.6},{"t":3045,"v":-56.9},{"t":3075,"v":-55.4},{"t":3105,"v":-53.4},{"t":3135,"v":-53},{"t":3138,"v":-4.6},{"t":3142,"v":-57},{"t":3150,"v":-59.7},{"t":3180,"v":-61.1},{"t":3195,"v":-58.3},{"t":3225,"v":-57},{"t":3228,"v":-4},{"t":3232,"v":-56},{"t":3240,"v":-56.9},{"t":3270,"v":-54},{"t":3300,"v":-53},{"t":3303,"v":-3.4},{"t":3307,"v":-52},{"t":3315,"v":-52.6},{"t":3345,"v":-56},{"t":3375,"v":-57.4},{"t":3405,"v":-55.4},{"t":3435,"v":-61.1},{"t":3465,"v":-55.4},{"t":3495,"v":-56.3},{"t":3525,"v":-54},{"t":3555,"v":-56.9},{"t":3585,"v":-55.4},{"t":3615,"v":-54},{"t":3645,"v":-56.9},{"t":3675,"v":-53.4},{"t":3705,"v":-51.1},{"t":3720,"v":-49.1},{"t":3735,"v":-52.6},{"t":3765,"v":-55.4},{"t":3795,"v":-56.9},{"t":3825,"v":-54},{"t":3855,"v":-56.3},{"t":3885,"v":-53.4},{"t":3915,"v":-54.9},{"t":3945,"v":-58.3},{"t":3975,"v":-57.4},{"t":4005,"v":-59.1},{"t":4020,"v":-53.4},{"t":4035,"v":-52.6},{"t":4050,"v":-52},{"t":4053,"v":-3.4},{"t":4057,"v":-51},{"t":4065,"v":-51.1},{"t":4080,"v":-50.6},{"t":4095,"v":-50.5},{"t":4098,"v":-3.1},{"t":4102,"v":-50},{"t":4110,"v":-49.7},{"t":4125,"v":-50},{"t":4128,"v":-2.9},{"t":4132,"v":-50},{"t":4140,"v":-50.3},{"t":4155,"v":-50.5},{"t":4158,"v":-3.1},{"t":4162,"v":-51},{"t":4170,"v":-51.7},{"t":4200,"v":-53.4},{"t":4230,"v":-58.3},{"t":4260,"v":-61.1},{"t":4290,"v":-65.4},{"t":4320,"v":-68.3},{"t":4350,"v":-70.6},{"t":4380,"v":-72.6},{"t":4410,"v":-74},{"t":4440,"v":-74.9},{"t":4470,"v":-76},{"t":4500,"v":-74.6},{"t":4530,"v":-72.6},{"t":4560,"v":-69.7},{"t":4590,"v":-66.9},{"t":4620,"v":-63.1},{"t":4650,"v":-59.7},{"t":4680,"v":-56.9},{"t":4710,"v":-54.6},{"t":4725,"v":-53},{"t":4728,"v":-3.1},{"t":4732,"v":-51},{"t":4740,"v":-51.1},{"t":4755,"v":-50.6},{"t":4770,"v":-50.5},{"t":4773,"v":-3.4},{"t":4777,"v":-51},{"t":4785,"v":-51.7},{"t":4800,"v":-52},{"t":4803,"v":-2.9},{"t":4807,"v":-53},{"t":4815,"v":-54},{"t":4845,"v":-56.9},{"t":4875,"v":-58.9},{"t":4905,"v":-57.4},{"t":4935,"v":-60.3},{"t":4965,"v":-58.3},{"t":4995,"v":-59.7},{"t":5025,"v":-61.1},{"t":5055,"v":-58.9},{"t":5085,"v":-56.9},{"t":5115,"v":-57.7},{"t":5130,"v":-58.3},{"t":5145,"v":-57},{"t":5148,"v":-6},{"t":5152,"v":-54},{"t":5160,"v":-54},{"t":5190,"v":-56.3},{"t":5220,"v":-55.4},{"t":5250,"v":-56.9},{"t":5280,"v":-56},{"t":5310,"v":-58.3},{"t":5340,"v":-57.4},{"t":5370,"v":-59.7},{"t":5400,"v":-58.3},{"t":5430,"v":-61.1},{"t":5460,"v":-60.3},{"t":5490,"v":-62.6},{"t":5520,"v":-61.1},{"t":5550,"v":-64},{"t":5580,"v":-65.4},{"t":5610,"v":-63.1},{"t":5640,"v":-64.9},{"t":5670,"v":-66.9},{"t":5700,"v":-65.4},{"t":5730,"v":-67.7},{"t":5760,"v":-66.3},{"t":5790,"v":-68.3},{"t":5820,"v":-67.7},{"t":5850,"v":-69.7},{"t":5865,"v":-69.1},{"t":5895,"v":-64.6},{"t":5925,"v":-62.6},{"t":5955,"v":-64},{"t":5985,"v":-61.1},{"t":6015,"v":-58.9},{"t":6045,"v":-60.3},{"t":6075,"v":-56.9},{"t":6090,"v":-56.3},{"t":6120,"v":-60.3},{"t":6150,"v":-62},{"t":6180,"v":-58.3},{"t":6210,"v":-59.7},{"t":6240,"v":-61.1},{"t":6270,"v":-64},{"t":6300,"v":-62.6},{"t":6330,"v":-65.4},{"t":6360,"v":-66},{"t":6390,"v":-68.3},{"t":6420,"v":-69.7},{"t":6450,"v":-72},{"t":6480,"v":-68.3}]
},
"columns": 2,
"spacing": 0,
"bounds": "flush",
"concat": [
 {"width": 520, "height": 180,
  "encoding": {"x": {"field": "t", "type": "quantitative", "scale": {"domain": [-180, 7620], "nice": false, "zero": false}, "axis": null},
               "y": {"field": "v", "type": "quantitative", "scale": {"domain": [-275, 625], "nice": false, "zero": false}, "axis": null}},
  "layer": [
   {"data": {"name": "emgA"}, "mark": {"type": "line", "color": "black", "strokeWidth": 1.7}},
   {"data": {"values": [{"t": 0, "v": 365, "label": "A"}]}, "mark": {"type": "text", "fontSize": 54, "align": "left", "baseline": "alphabetic"}, "encoding": {"text": {"field": "label"}}},
   {"data": {"values": [{"t": 3270, "v": 285, "label": "Wakefulness"}]}, "mark": {"type": "text", "fontSize": 33, "align": "center", "baseline": "alphabetic"}, "encoding": {"text": {"field": "label"}}}
  ]},
 {"width": 523, "height": 180,
  "encoding": {"x": {"field": "t", "type": "quantitative", "scale": {"domain": [-555, 7290], "nice": false, "zero": false}, "axis": null},
               "y": {"field": "v", "type": "quantitative", "scale": {"domain": [-275, 625], "nice": false, "zero": false}, "axis": null}},
  "layer": [
   {"data": {"name": "emgB"}, "mark": {"type": "line", "color": "black", "strokeWidth": 1.7}},
   {"data": {"values": [{"t": 15, "v": 365, "label": "B"}]}, "mark": {"type": "text", "fontSize": 53, "align": "left", "baseline": "alphabetic"}, "encoding": {"text": {"field": "label"}}},
   {"data": {"values": [{"t": 3405, "v": 285, "label": "Drowsiness"}]}, "mark": {"type": "text", "fontSize": 33, "align": "center", "baseline": "alphabetic"}, "encoding": {"text": {"field": "label"}}},
   {"data": {"values": [{"t": 6540, "v": -100, "v2": 100}]}, "mark": {"type": "rule", "color": "black", "strokeWidth": 1.6}, "encoding": {"y2": {"field": "v2"}}},
   {"data": {"values": [{"t": 6660, "v": 15, "label": "200"}, {"t": 6660, "v": -105, "label": "µV"}]}, "mark": {"type": "text", "fontSize": 22, "align": "left", "baseline": "alphabetic"}, "encoding": {"text": {"field": "label"}}}
  ]},
 {"width": 520, "height": 105,
  "encoding": {"x": {"field": "t", "type": "quantitative", "scale": {"domain": [-180, 7620], "nice": false, "zero": false}, "axis": null},
               "y": {"field": "v", "type": "quantitative", "scale": {"domain": [-210, 157.5], "nice": false, "zero": false}, "axis": null}},
  "layer": [
   {"data": {"name": "eegA"}, "mark": {"type": "line", "color": "black", "strokeWidth": 1.8}},
   {"data": {"values": [{"t": 15, "v": 154, "label": "EMG"}, {"t": 45, "v": -175, "label": "EEG"}]}, "mark": {"type": "text", "fontSize": 24, "align": "left", "baseline": "alphabetic"}, "encoding": {"text": {"field": "label"}}}
  ]},
 {"width": 523, "height": 105,
  "encoding": {"x": {"field": "t", "type": "quantitative", "scale": {"domain": [-555, 7290], "nice": false, "zero": false}, "axis": null},
               "y": {"field": "v", "type": "quantitative", "scale": {"domain": [-210, 157.5], "nice": false, "zero": false}, "axis": null}},
  "layer": [
   {"data": {"name": "eegB"}, "mark": {"type": "line", "color": "black", "strokeWidth": 1.8}},
   {"data": {"values": [{"t": 6540, "v": -50, "v2": 50}]}, "mark": {"type": "rule", "color": "black", "strokeWidth": 1.6}, "encoding": {"y2": {"field": "v2"}}},
   {"data": {"values": [{"t": 6660, "v": 24.5, "label": "100"}, {"t": 6660, "v": -59.5, "label": "µV"}]}, "mark": {"type": "text", "fontSize": 22, "align": "left", "baseline": "alphabetic"}, "encoding": {"text": {"field": "label"}}}
  ]},
 {"width": 520, "height": 323,
  "encoding": {"x": {"field": "t", "type": "quantitative", "scale": {"domain": [-180, 7620], "nice": false, "zero": false}, "axis": null},
               "y": {"field": "v", "type": "quantitative", "scale": {"domain": [-88.57, 3.71], "nice": false, "zero": false}, "axis": null}},
  "layer": [
   {"data": {"values": [{"t": 90, "t2": 6525, "v": -74}]}, "mark": {"type": "rule", "color": "black", "strokeWidth": 2, "strokeDash": [8, 5]}, "encoding": {"x2": {"field": "t2"}}},
   {"data": {"name": "vmA"}, "mark": {"type": "line", "color": "black", "strokeWidth": 1.6}},
   {"data": {"values": [{"t": 45, "v": -82.6, "label": "-74 mV"}]}, "mark": {"type": "text", "fontSize": 23, "align": "left", "baseline": "alphabetic"}, "encoding": {"text": {"field": "label"}}}
  ]},
 {"width": 523, "height": 323,
  "encoding": {"x": {"field": "t", "type": "quantitative", "scale": {"domain": [-555, 7290], "nice": false, "zero": false}, "axis": null},
               "y": {"field": "v", "type": "quantitative", "scale": {"domain": [-90.57, 1.71], "nice": false, "zero": false}, "axis": null}},
  "layer": [
   {"data": {"values": [{"t": 15, "t2": 6540, "v": -76}]}, "mark": {"type": "rule", "color": "black", "strokeWidth": 2, "strokeDash": [8, 5]}, "encoding": {"x2": {"field": "t2"}}},
   {"data": {"name": "vmB"}, "mark": {"type": "line", "color": "black", "strokeWidth": 1.6}},
   {"data": {"values": [{"t": 0, "v": -84.9, "label": "-76 mV"}]}, "mark": {"type": "text", "fontSize": 23, "align": "left", "baseline": "alphabetic"}, "encoding": {"text": {"field": "label"}}},
   {"data": {"values": [{"t": 6540, "v": -46.5, "v2": -26.5}]}, "mark": {"type": "rule", "color": "black", "strokeWidth": 1.6}, "encoding": {"y2": {"field": "v2"}}},
   {"data": {"values": [{"t": 6660, "v": -36.3, "label": "20"}, {"t": 6660, "v": -42.9, "label": "mV"}]}, "mark": {"type": "text", "fontSize": 22, "align": "left", "baseline": "alphabetic"}, "encoding": {"text": {"field": "label"}}},
   {"data": {"values": [{"t": 4495, "t2": 6495, "v": -82}]}, "mark": {"type": "rule", "color": "black", "strokeWidth": 2}, "encoding": {"x2": {"field": "t2"}}},
   {"data": {"values": [{"t": 5445, "v": -89.2, "label": "2 s"}]}, "mark": {"type": "text", "fontSize": 23, "align": "center", "baseline": "alphabetic"}, "encoding": {"text": {"field": "label"}}}
  ]}
]
}
